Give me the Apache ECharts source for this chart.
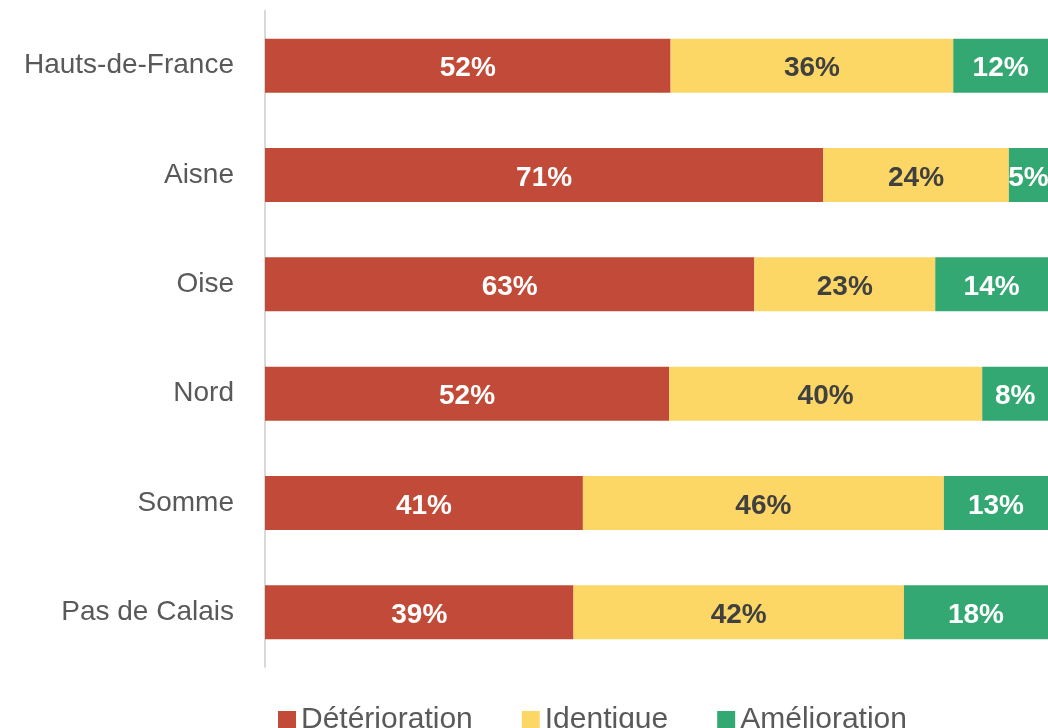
<!DOCTYPE html>
<html>
<head>
<meta charset="utf-8">
<script src="https://cdn.jsdelivr.net/npm/echarts@6/dist/echarts.min.js"></script>
<style>
html, body { margin: 0; padding: 0; background: #fff; }
#chart { width: 1048px; height: 728px; }
</style>
</head>
<body>
<div id="chart"></div>
<script>
// données (du haut vers le bas), en %
var regions = ['Hauts-de-France', 'Aisne', 'Oise', 'Nord', 'Somme', 'Pas de Calais'];
var deterioration = [51.8, 71.3, 62.5, 51.6, 40.6, 39.4];
var identique = [36.1, 23.7, 23.1, 40.0, 46.1, 42.2];
var amelioration = [12.1, 5.0, 14.4, 8.4, 13.3, 18.4];

(function(){
	var font = 'Liberation Sans';
	function serie(name, data, color, labelColor){
		return {
			name: name,
			type: 'bar',
			stack: 'total',
			barWidth: 54,
			itemStyle: { color: color },
			label: {
				show: true,
				position: 'inside',
				offset: [0, 3],
				formatter: function(p){ return Math.round(p.value) + '%'; },
				color: labelColor,
				fontFamily: font,
				fontWeight: 'bold',
				fontSize: 28
			},
			data: data
		};
	}
	var option = {
		animation: false,
		grid: { left: 265, right: -2, top: 11, height: 656 },
		legend: {
			bottom: -12,
			left: 273,
			icon: 'rect',
			itemWidth: 18,
			itemHeight: 18,
			itemGap: 49,
			textStyle: { color: '#595959', fontFamily: font, fontSize: 30 },
			data: ['Détérioration', 'Identique', 'Amélioration']
		},
		xAxis: {
			type: 'value',
			min: 0,
			max: 100,
			show: false
		},
		yAxis: {
			type: 'category',
			inverse: true,
			data: regions,
			axisLine: { lineStyle: { color: '#d9d9d9', width: 2 } },
			axisTick: { show: false },
			axisLabel: { color: '#595959', fontFamily: font, fontSize: 28, margin: 31, padding: [5, 0, 0, 0] }
		},
		series: [
			serie('Détérioration', deterioration, '#c14b38', '#ffffff'),
			serie('Identique', identique, '#fdd766', '#404040'),
			serie('Amélioration', amelioration, '#34a872', '#ffffff')
		]
	};
	var myChart = echarts.init(document.getElementById('chart'));
	myChart.setOption(option);
})();
</script>
</body>
</html>
